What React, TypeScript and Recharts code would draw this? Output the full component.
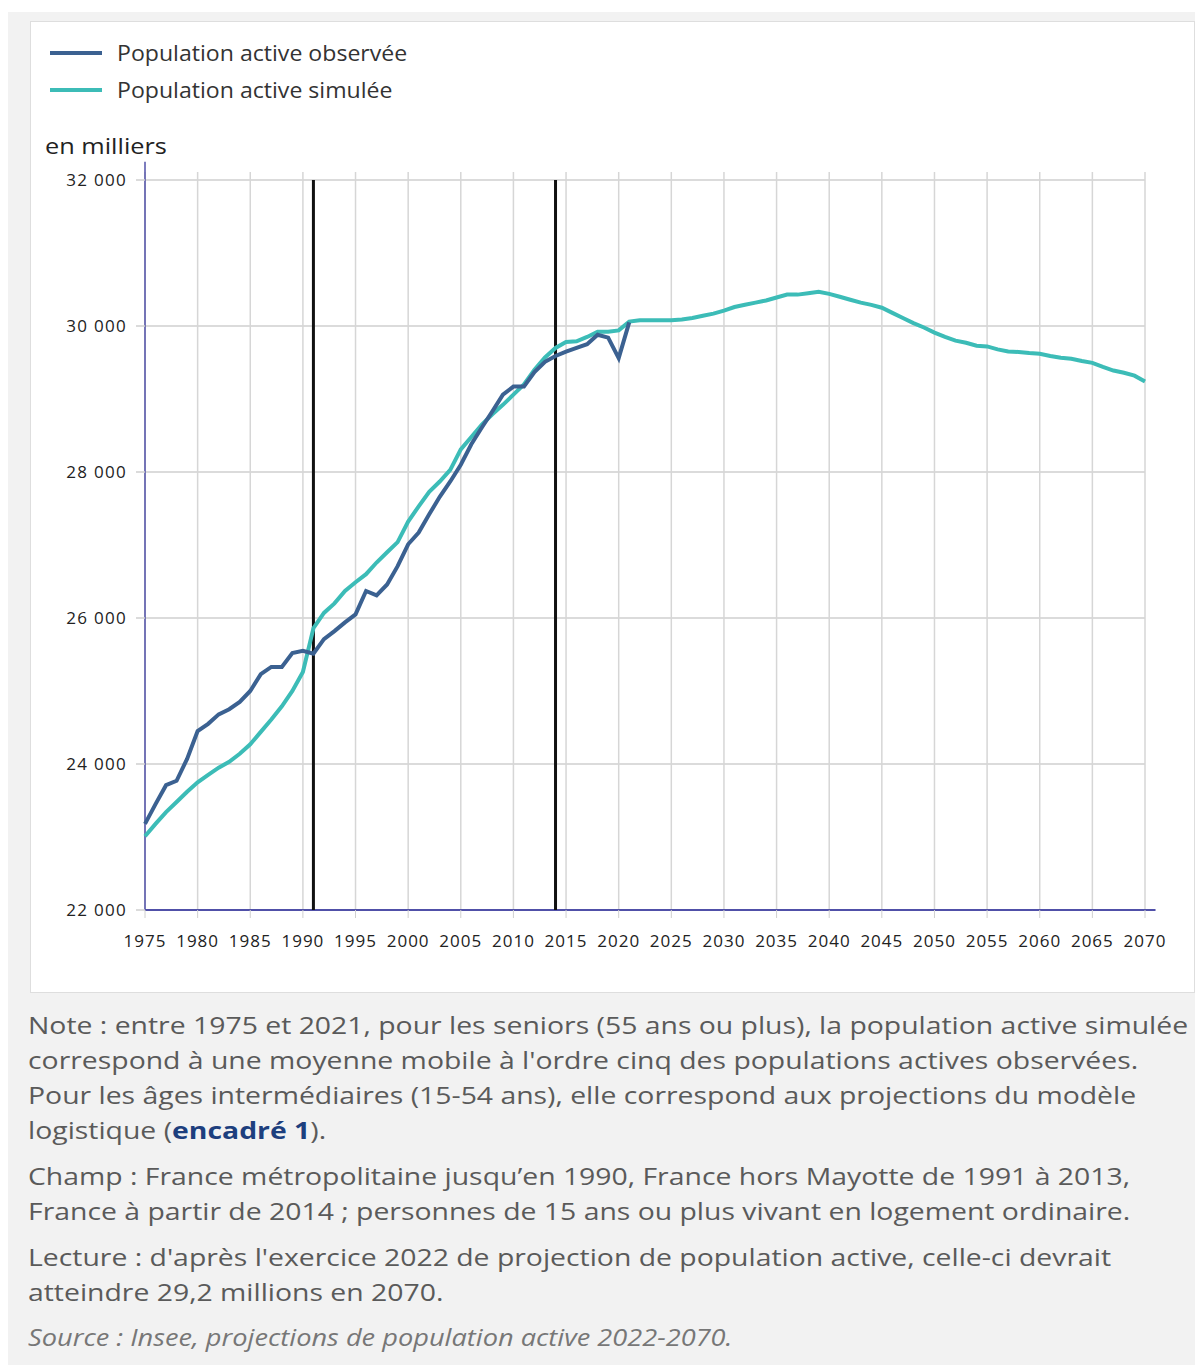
import { CartesianGrid, Line, LineChart, ReferenceLine, XAxis, YAxis } from "recharts";

const years = [
  1975, 1976, 1977, 1978, 1979, 1980, 1981, 1982, 1983, 1984,
  1985, 1986, 1987, 1988, 1989, 1990, 1991, 1992, 1993, 1994,
  1995, 1996, 1997, 1998, 1999, 2000, 2001, 2002, 2003, 2004,
  2005, 2006, 2007, 2008, 2009, 2010, 2011, 2012, 2013, 2014,
  2015, 2016, 2017, 2018, 2019, 2020, 2021, 2022, 2023, 2024,
  2025, 2026, 2027, 2028, 2029, 2030, 2031, 2032, 2033, 2034,
  2035, 2036, 2037, 2038, 2039, 2040, 2041, 2042, 2043, 2044,
  2045, 2046, 2047, 2048, 2049, 2050, 2051, 2052, 2053, 2054,
  2055, 2056, 2057, 2058, 2059, 2060, 2061, 2062, 2063, 2064,
  2065, 2066, 2067, 2068, 2069, 2070,
];

// 1975-2021
const observed = [
  23180, 23450, 23710, 23770, 24070, 24450, 24550, 24680, 24750, 24850,
  25000, 25230, 25330, 25330, 25520, 25550, 25510, 25710, 25820, 25940,
  26050, 26370, 26310, 26460, 26710, 27010, 27170, 27420, 27660, 27870,
  28100, 28380, 28610, 28830, 29060, 29170, 29170, 29370, 29510, 29590,
  29650, 29700, 29750, 29880, 29840, 29560, 30050,
];

// 1975-2070
const simulated = [
  23010, 23180, 23340, 23480, 23620, 23750, 23850, 23950, 24030, 24140,
  24270, 24440, 24610, 24790, 25000, 25260, 25860, 26070, 26200, 26370,
  26490, 26600, 26760, 26900, 27040, 27320, 27530, 27730, 27870, 28030,
  28310, 28480, 28650, 28790, 28920, 29060, 29200, 29400, 29570, 29700,
  29780, 29790, 29850, 29920, 29920, 29940, 30060, 30080, 30080, 30080,
  30080, 30090, 30110, 30140, 30170, 30210, 30260, 30290, 30320, 30350,
  30390, 30430, 30430, 30450, 30470, 30440, 30400, 30360, 30320, 30290,
  30250, 30180, 30110, 30040, 29980, 29910, 29850, 29800, 29770, 29730,
  29720, 29680, 29650, 29645, 29630, 29620, 29590, 29565, 29550, 29520,
  29495, 29440, 29390, 29360, 29320, 29240,
];

const xTicks = [
  1975, 1980, 1985, 1990, 1995, 2000, 2005, 2010, 2015, 2020,
  2025, 2030, 2035, 2040, 2045, 2050, 2055, 2060, 2065, 2070,
];
const yTicks = [22000, 24000, 26000, 28000, 30000, 32000];
const breakYears = [1991, 2014];

const seriesNames = ["Population active observée", "Population active simulée"];
const colors = ["#3b6191", "#3cbcb7"];

const data = years.map((year, i) => ({
  year,
  observed: i < observed.length ? observed[i] : undefined,
  simulated: simulated[i],
}));

const fmt = (v: number) => {
  const s = String(v);
  return s.slice(0, s.length - 3) + " " + s.slice(-3);
};

const font = '"Open Sans", sans-serif';

export default function App() {
  return (
    <div
      style={{
        position: "relative",
        top: 4,
        width: 1195,
        height: 1357,
        background: "#f2f2f2",
        fontFamily: font,
        overflow: "hidden",
      }}
    >
      <div
        style={{
          position: "absolute",
          left: 22,
          top: 9,
          width: 1163,
          height: 970,
          background: "#fff",
          border: "1px solid #dedede",
        }}
      >
        <LineChart
          width={1163}
          height={970}
          data={data}
          margin={{ top: 158, right: 49, bottom: 42, left: 34 }}
        >
          <CartesianGrid vertical={false} stroke="#cfcfcf" strokeWidth={1.5} />
          {xTicks.map((t) => (
            <ReferenceLine
              key={t}
              segment={[
                { x: t, y: 22000 },
                { x: t, y: 32110 },
              ]}
              ifOverflow="visible"
              stroke="#d6d6d6"
              strokeWidth={1.5}
            />
          ))}
          <XAxis
            dataKey="year"
            type="number"
            domain={[1975, 2070]}
            ticks={xTicks}
            axisLine={false}
            tickLine={{ stroke: "#d0d0d0" }}
            tickSize={8}
            tickMargin={17}
            height={40}
            tick={{ fill: "#222", fontSize: 17, fontFamily: font, letterSpacing: 1 }}
          />
          <YAxis
            type="number"
            domain={[22000, 32000]}
            ticks={yTicks}
            tickFormatter={fmt}
            axisLine={false}
            tickLine={{ stroke: "#cfcfcf", strokeWidth: 1.5 }}
            tickSize={9}
            tickMargin={9}
            width={80}
            tick={{ fill: "#222", fontSize: 17, fontFamily: font, letterSpacing: 1.3 }}
          />
          <ReferenceLine
            segment={[
              { x: 1975, y: 22000 },
              { x: 2071, y: 22000 },
            ]}
            ifOverflow="visible"
            stroke="#5050a8"
            strokeWidth={2}
          />
          <ReferenceLine
            segment={[
              { x: 1975, y: 22000 },
              { x: 1975, y: 32250 },
            ]}
            ifOverflow="visible"
            stroke="#5050a8"
            strokeWidth={1.5}
          />
          {breakYears.map((y) => (
            <ReferenceLine key={y} x={y} stroke="#111" strokeWidth={3} />
          ))}
          <Line
            dataKey="simulated"
            name={seriesNames[1]}
            stroke={colors[1]}
            strokeWidth={4}
            dot={false}
            isAnimationActive={false}
            type="linear"
          />
          <Line
            dataKey="observed"
            name={seriesNames[0]}
            stroke={colors[0]}
            strokeWidth={4}
            dot={false}
            isAnimationActive={false}
            type="linear"
          />
        </LineChart>

        {/* legend */}
        <div style={{ position: "absolute", left: 19, top: 12 }}>
          {seriesNames.map((n, i) => (
            <div
              key={n}
              style={{ display: "flex", alignItems: "center", height: 37 }}
            >
              <div
                style={{ width: 52, height: 4, background: colors[i], marginRight: 15 }}
              />
              <span
                style={{
                  fontSize: 21,
                  color: "#333",
                  display: "inline-block",
                  transform: "scaleX(1.1)",
                  transformOrigin: "left center",
                }}
              >
                {n}
              </span>
            </div>
          ))}
        </div>
        <div
          style={{
            position: "absolute",
            left: 14,
            top: 108,
            fontSize: 22,
            color: "#222",
            transform: "scaleX(1.15)",
            transformOrigin: "left center",
          }}
        >
          en milliers
        </div>
      </div>

      <div
        style={{
          position: "absolute",
          left: 20,
          top: 995,
          width: 1000,
          fontSize: 24,
          lineHeight: "35px",
          color: "#5a5a5a",
          whiteSpace: "nowrap",
          transform: "scaleX(1.182)",
          transformOrigin: "left top",
        }}
      >
        <div style={{ marginBottom: 11 }}>
          Note : entre 1975 et 2021, pour les seniors (55 ans ou plus), la population active simulée
          <br />
          correspond à une moyenne mobile à l'ordre cinq des populations actives observées.
          <br />
          Pour les âges intermédiaires (15-54 ans), elle correspond aux projections du modèle
          <br />
          logistique (<b style={{ color: "#1d3f7e" }}>encadré 1</b>).
        </div>
        <div style={{ marginBottom: 11 }}>
          Champ : France métropolitaine jusqu’en 1990, France hors Mayotte de 1991 à 2013,
          <br />
          France à partir de 2014 ; personnes de 15 ans ou plus vivant en logement ordinaire.
        </div>
        <div style={{ marginBottom: 11 }}>
          Lecture : d'après l'exercice 2022 de projection de population active, celle-ci devrait
          <br />
          atteindre 29,2 millions en 2070.
        </div>
        <div style={{ fontStyle: "italic", color: "#777", fontSize: 23 }}>
          Source : Insee, projections de population active 2022-2070.
        </div>
      </div>
    </div>
  );
}
